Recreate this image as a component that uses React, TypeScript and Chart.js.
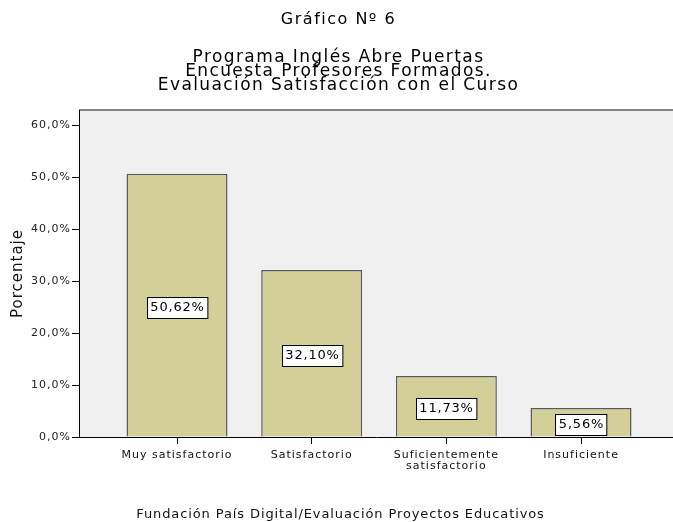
import React, { useEffect, useRef } from 'react';
import { Chart, registerables } from 'chart.js';

Chart.register(...registerables);

const categories: string[][] = [
  ['Muy satisfactorio'],
  ['Satisfactorio'],
  ['Suficientemente', 'satisfactorio'],
  ['Insuficiente'],
];
const values: number[] = [50.62, 32.1, 11.73, 5.56];
const yTickValues: number[] = [0, 10, 20, 30, 40, 50, 60];
const titleMain = 'Gráfico Nº 6';
const titleLines: string[] = [
  'Programa Inglés Abre Puertas',
  'Encuesta Profesores Formados.',
  'Evaluación Satisfacción con el Curso',
];
const footerText = 'Fundación País Digital/Evaluación Proyectos Educativos';
const yTitle = 'Porcentaje';

const FONT = '"DejaVu Sans", Verdana, sans-serif';
const fmtPct = (v: number) => v.toFixed(2).replace('.', ',') + '%';
const fmtTick = (v: number) => v.toFixed(1).replace('.', ',') + '%';

const spacingPlugin = {
  id: 'spacing',
  beforeUpdate(chart: any) { chart.ctx.letterSpacing = '1px'; },
  beforeLayout(chart: any) { chart.ctx.letterSpacing = '1px'; },
  beforeDraw(chart: any) {
    const { ctx, chartArea } = chart;
    ctx.save();
    ctx.fillStyle = '#f0f0f0';
    ctx.fillRect(chartArea.left, chartArea.top, chartArea.right - chartArea.left, chartArea.bottom - chartArea.top);
    ctx.fillStyle = '#858585';
    ctx.fillRect(chartArea.left, chartArea.top - 1, chartArea.right - chartArea.left, 2);
    ctx.restore();
    ctx.letterSpacing = '1px';
  },
};

const labelPlugin = {
  id: 'barLabels',
  afterDatasetsDraw(chart: any) {
    const { ctx } = chart;
    const meta = chart.getDatasetMeta(0);
    ctx.save();
    ctx.font = `13px ${FONT}`;
    ctx.letterSpacing = '0.8px';
    ctx.textAlign = 'center';
    ctx.textBaseline = 'middle';
    meta.data.forEach((bar: any, i: number) => {
      const txt = fmtPct(values[i]);
      const w = ctx.measureText(txt).width + 6;
      const h = 21;
      const cx = Math.round(bar.x);
      const cy = Math.round((bar.y + bar.base) / 2 + 2);
      const x0 = Math.round(cx - w / 2) + 0.5;
      const y0 = Math.round(cy - h / 2) + 0.5;
      ctx.fillStyle = '#ffffff';
      ctx.fillRect(x0, y0, w, h);
      ctx.strokeStyle = '#000000';
      ctx.lineWidth = 1;
      ctx.strokeRect(x0, y0, w, h);
      ctx.fillStyle = '#000000';
      ctx.fillText(txt, cx + 0.5, cy + 1);
    });
    ctx.restore();
  },
};

const textPlugin = {
  id: 'texts',
  afterDraw(chart: any) {
    const { ctx } = chart;
    const cx = chart.width / 2 + 2;
    ctx.save();
    ctx.fillStyle = '#000000';
    ctx.textAlign = 'center';
    ctx.textBaseline = 'alphabetic';
    ctx.font = `16px ${FONT}`;
    ctx.letterSpacing = '1.5px';
    ctx.fillText(titleMain, cx, 24);
    ctx.font = `17px ${FONT}`;
    ctx.letterSpacing = '1.4px';
    titleLines.forEach((t, i) => ctx.fillText(t, cx, 62 + i * 14));
    ctx.font = `13px ${FONT}`;
    ctx.letterSpacing = '0.9px';
    ctx.fillStyle = '#111111';
    ctx.fillText(footerText, cx + 2, 518);
    ctx.restore();
  },
};

export default function App() {
  const ref = useRef<HTMLCanvasElement | null>(null);
  useEffect(() => {
    if (!ref.current) return;
    Chart.defaults.font.family = FONT;
    const chart = new Chart(ref.current, {
      type: 'bar',
      data: {
        datasets: [
          {
            data: values.map((v, i) => ({ x: i, y: v })) as any,
            backgroundColor: '#d3cf98',
            borderColor: '#5a5a5a',
            borderWidth: 1.5,
            barPercentage: 0.75,
            categoryPercentage: 1,
          },
        ],
      },
      options: {
        responsive: false,
        animation: false,
        devicePixelRatio: 1,
        layout: { padding: { top: 110, left: 0, right: 0, bottom: 0 } },
        plugins: { legend: { display: false }, tooltip: { enabled: false }, title: { display: false } },
        scales: {
          x: {
            type: 'linear',
            min: -0.728,
            max: 3.683,
            offset: false,
            afterBuildTicks: (s: any) => { s.ticks = categories.map((_, i) => ({ value: i })); },
            afterFit: (s: any) => { s.height = 85; },
            grid: { offset: false, drawOnChartArea: false, drawTicks: true, tickLength: 7, color: '#000' },
            border: { color: '#000', width: 1 },
            ticks: {
              callback: (_v: any, i: number) => categories[i],
              font: { size: 11, lineHeight: 1.05 },
              color: '#111',
              padding: 5,
              maxRotation: 0,
              autoSkip: false,
            },
          } as any,
          y: {
            min: 0,
            max: 62.9,
            afterBuildTicks: (s: any) => { s.ticks = yTickValues.map((v) => ({ value: v })); },
            afterFit: (s: any) => { s.width = 79; },
            grid: { drawOnChartArea: false, tickLength: 7, color: '#000' },
            border: { color: '#000', width: 1 },
            ticks: {
              callback: (v: any) => fmtTick(Number(v)),
              font: { size: 11 },
              color: '#222',
              padding: 1,
            },
            title: {
              display: true,
              text: yTitle,
              font: { size: 15 },
              color: '#111',
              padding: { top: 9, bottom: 0 },
            },
          } as any,
        },
      },
      plugins: [spacingPlugin, labelPlugin, textPlugin],
    });
    return () => chart.destroy();
  }, []);
  return (
    <div style={{ position: 'absolute', left: 0, top: 0, width: 673, height: 522, background: '#fff' }}>
      <canvas ref={ref} width={673} height={522} style={{ display: 'block' }} />
    </div>
  );
}
